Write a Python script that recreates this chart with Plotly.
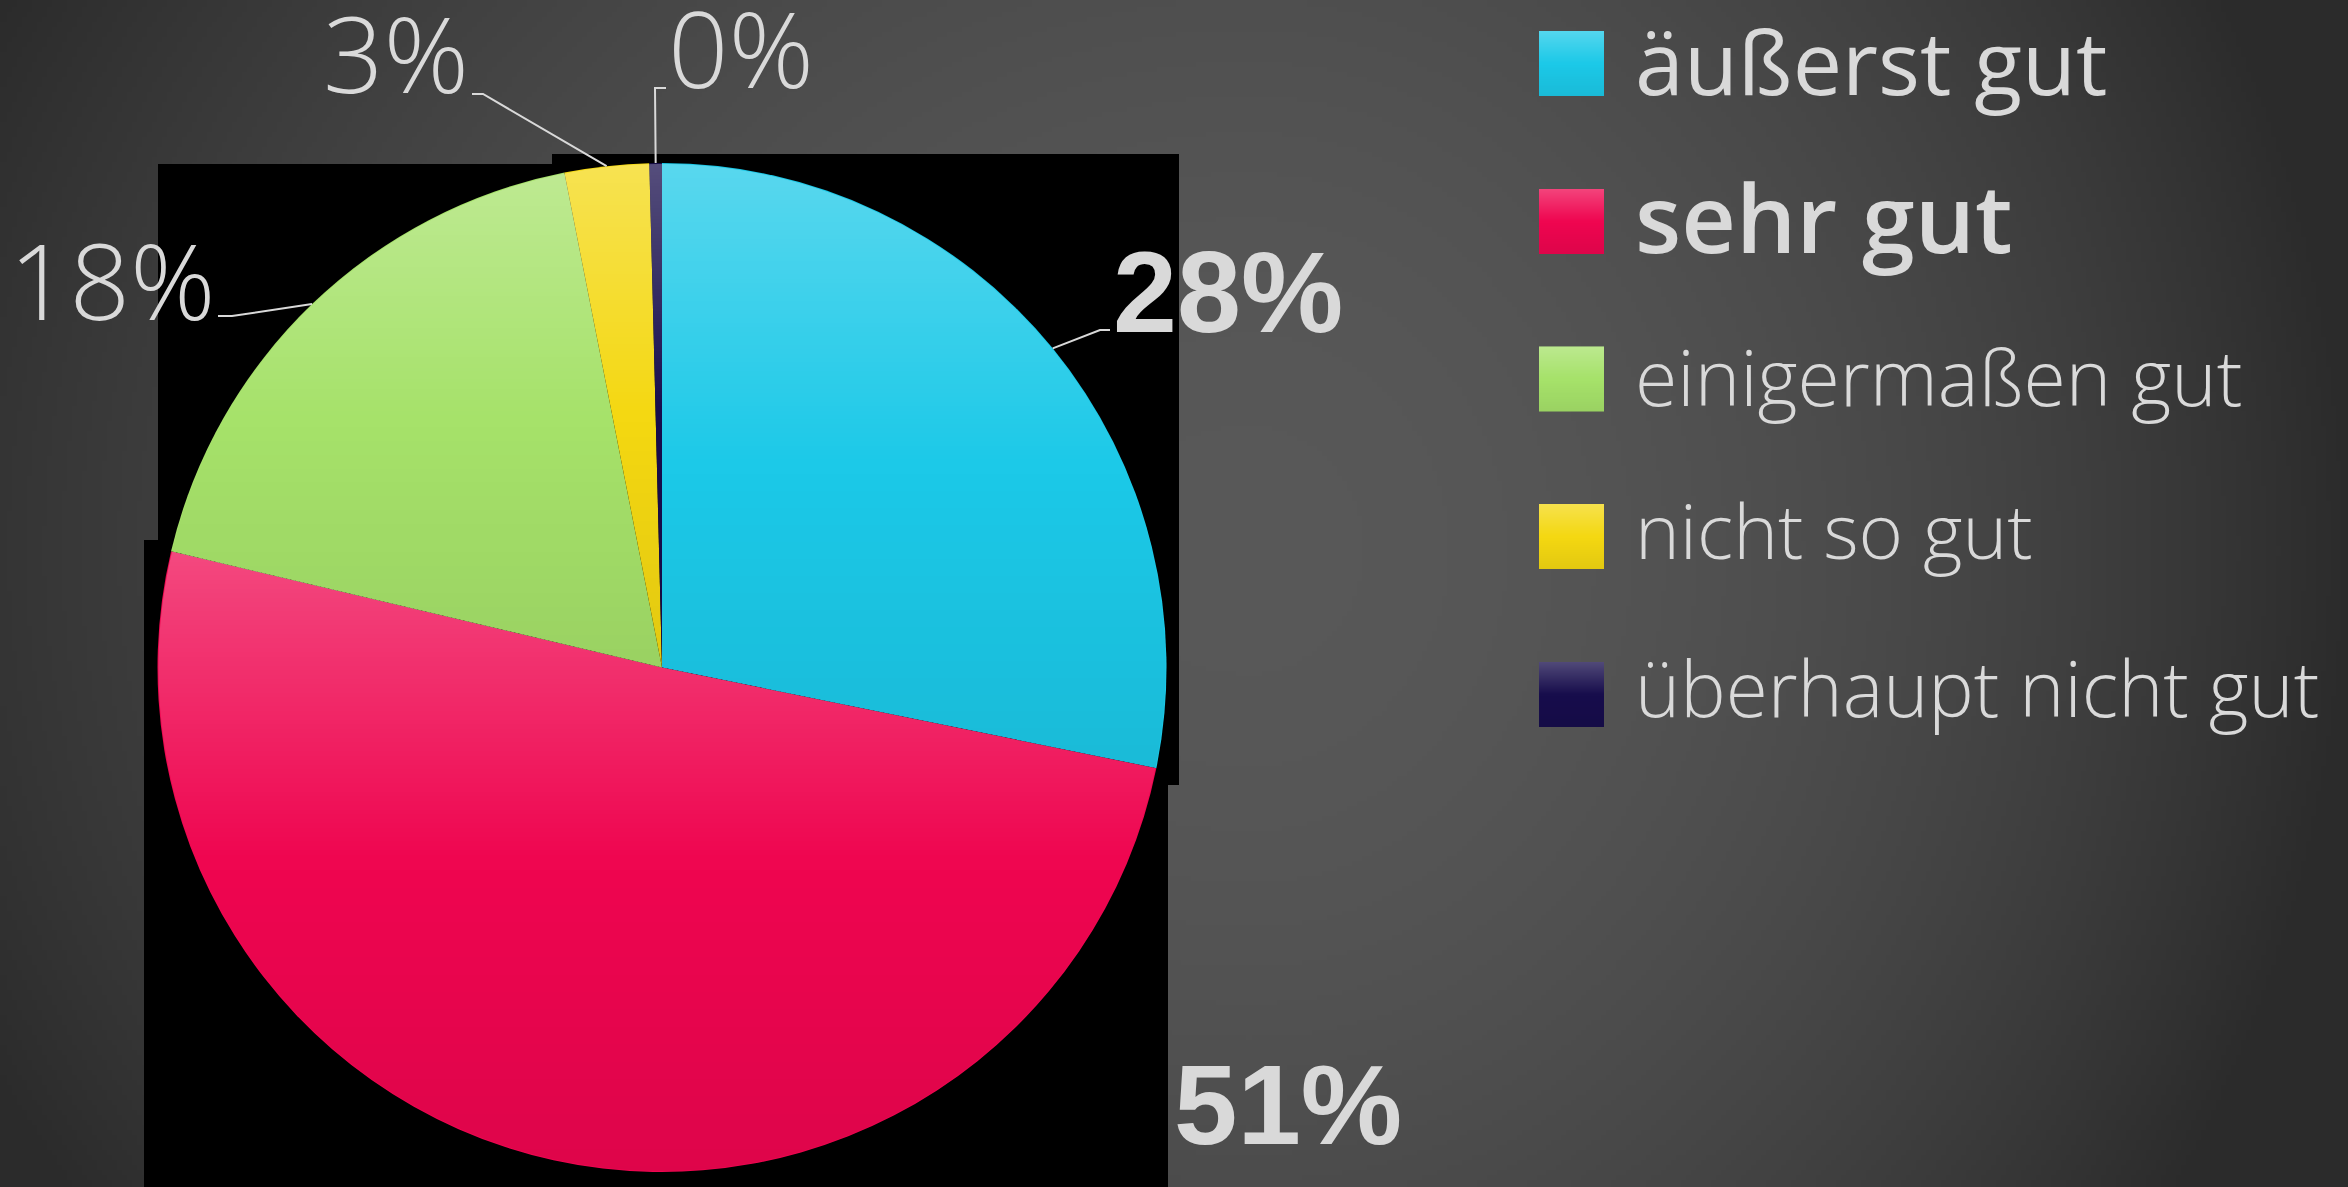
import base64
import struct
import zlib

import numpy as np
import plotly.graph_objects as go

# ---------------- data ----------------
categories = ["äußerst gut", "sehr gut", "einigermaßen gut", "nicht so gut", "überhaupt nicht gut"]
values = [28.2, 50.5, 18.2, 2.7, 0.4]
value_labels = ["28%", "51%", "18%", "3%", "0%"]
colors = ["#1cc9e8", "#ef0650", "#a6e26a", "#f4d812", "#170d4c"]

# ---------------- geometry / style ----------------
W, H = 2348, 1187
PIE_L, PIE_R, PIE_T, PIE_B = 157, 1167, 163, 1172
cx = (PIE_L + PIE_R) / 2
cy = (PIE_T + PIE_B) / 2
R = min(PIE_R - PIE_L, PIE_B - PIE_T) / 2
TXT = "#d9d9d9"


def px(x):
    return x / W


def py(y):
    return 1 - y / H


def png_uri(arr):
    h, w, c = arr.shape
    ctype = 2 if c == 3 else 6
    raw = b"".join(b"\x00" + arr[i].tobytes() for i in range(h))

    def chunk(t, d):
        return struct.pack(">I", len(d)) + t + d + struct.pack(">I", zlib.crc32(t + d) & 0xFFFFFFFF)

    data = (b"\x89PNG\r\n\x1a\n"
            + chunk(b"IHDR", struct.pack(">IIBBBBB", w, h, 8, ctype, 0, 0, 0))
            + chunk(b"IDAT", zlib.compress(raw, 9))
            + chunk(b"IEND", b""))
    return "data:image/png;base64," + base64.b64encode(data).decode()


# background radial gradient
bw, bh = 470, 238
Xb, Yb = np.meshgrid((np.arange(bw) + 0.5) * W / bw, (np.arange(bh) + 0.5) * H / bh)
gx, gy = 1250, 550
ddx = (Xb - gx) / np.where(Xb > gx, 1100, 1400)
ddy = (Yb - gy) / 1200
d2 = np.clip(ddx ** 2 + ddy ** 2, 0, 1)
lum = 88 - 45 * d2
bg = np.repeat(lum[..., None], 3, axis=2).round().astype(np.uint8)
bg_uri = png_uri(bg)

# per-slice vertical shading overlay (lighter at top of each slice)
total = sum(values)
bounds = np.cumsum(values) / total * 360.0
starts = np.concatenate([[0.0], bounds[:-1]])
tops, bots = [], []
for a0, a1 in zip(starts, bounds):
    angs = [a0, a1] + [k for k in (0, 90, 180, 270, 360) if a0 < k < a1]
    ys_pts = [cy] + [cy - R * np.cos(np.radians(a)) for a in angs]
    tops.append(min(ys_pts))
    bots.append(max(ys_pts))
tops = np.array(tops)
bots = np.array(bots)

ow, oh = PIE_R - PIE_L, PIE_B - PIE_T
Xo, Yo = np.meshgrid(PIE_L + np.arange(ow) + 0.5, PIE_T + np.arange(oh) + 0.5)
DX, DY = Xo - cx, Yo - cy
dist = np.hypot(DX, DY)
cover = np.clip(R - dist - 0.5, 0, 1)
ang = np.degrees(np.arctan2(DX, -DY)) % 360
idx = np.clip(np.searchsorted(bounds, ang, side="right"), 0, len(values) - 1)
T = np.clip((Yo - tops[idx]) / np.maximum(bots[idx] - tops[idx], 1), 0, 1)
wa = 0.27 * np.clip(1 - T / 0.5, 0, 1)
ba = 0.07 * np.clip((T - 0.5) / 0.5, 0, 1)
ov = np.zeros((oh, ow, 4), dtype=np.uint8)
ov[..., 0] = ov[..., 1] = ov[..., 2] = np.where(wa > 0, 255, 0)
ov[..., 3] = np.round((wa + ba) * cover * 255).astype(np.uint8)
ov_uri = png_uri(ov)

# small gradient for legend squares
sq = np.zeros((64, 1, 4), dtype=np.uint8)
tt = (np.arange(64) + 0.5) / 64
swa = 0.25 * np.clip(1 - tt / 0.5, 0, 1)
sba = 0.07 * np.clip((tt - 0.5) / 0.5, 0, 1)
sq[:, 0, 0] = sq[:, 0, 1] = sq[:, 0, 2] = np.where(swa > 0, 255, 0)
sq[:, 0, 3] = np.round((swa + sba) * 255).astype(np.uint8)
sq_uri = png_uri(sq)

# ---------------- figure ----------------
fig = go.Figure()
fig.add_trace(go.Pie(
    labels=categories,
    values=values,
    sort=False,
    direction="clockwise",
    rotation=0,
    marker=dict(colors=colors, line=dict(width=0)),
    textinfo="none",
    hoverinfo="label+percent",
    showlegend=False,
    domain=dict(x=[px(PIE_L), px(PIE_R)], y=[py(PIE_B), py(PIE_T)]),
))

shapes = []
# black artefact rectangles behind the pie
for (x0, y0, x1, y1) in [(552, 154, 1179, 785), (158, 164, 1179, 785), (144, 540, 1168, 1190)]:
    shapes.append(dict(type="rect", xref="paper", yref="paper", x0=px(x0), x1=px(x1), y0=py(y1), y1=py(y0),
                       fillcolor="black", line=dict(width=0), layer="below"))

images = [
    dict(source=bg_uri, xref="paper", yref="paper", x=0, y=1, sizex=1, sizey=1,
         sizing="stretch", xanchor="left", yanchor="top", layer="below"),
    dict(source=ov_uri, xref="paper", yref="paper", x=px(PIE_L), y=py(PIE_T),
         sizex=ow / W, sizey=oh / H, sizing="stretch", xanchor="left", yanchor="top", layer="above"),
]

# data labels with leader lines
label_pos = [(1228, 292), (1288, 1104), (112, 279), (396, 52), (741, 47)]
label_font = [
    dict(family="Liberation Sans, Arial", size=115, color=TXT, weight=700),
    dict(family="Liberation Sans, Arial", size=114, color=TXT, weight=700),
    dict(family="Open Sans", size=106, color=TXT, weight=300),
    dict(family="Open Sans", size=106, color=TXT, weight=300),
    dict(family="Open Sans", size=106, color=TXT, weight=300),
]
elbows = [((1100, 330), (1110, 330)), None, ((232, 316), (218, 316)),
          ((483, 94), (472, 94)), ((655, 88), (666, 88))]

annotations = []
for i, lab in enumerate(value_labels):
    lx, ly = label_pos[i]
    annotations.append(dict(text=lab, x=px(lx), y=py(ly), xref="paper", yref="paper",
                            xanchor="center", yanchor="middle", showarrow=False, font=label_font[i]))
    if elbows[i] is not None:
        mid = (starts[i] + bounds[i]) / 2
        sx = cx + R * np.sin(np.radians(mid))
        sy = cy - R * np.cos(np.radians(mid))
        (ex, ey), (tx, ty) = elbows[i]
        path = f"M{px(sx)},{py(sy)} L{px(ex)},{py(ey)} L{px(tx)},{py(ty)}"
        shapes.append(dict(type="path", xref="paper", yref="paper", path=path,
                           line=dict(color=TXT, width=2), layer="above"))

# legend
sq_x0, sq_size = 1539, 65
row_centers = [63.5, 221.5, 379, 536.5, 694.5]
text_y = [61, 216, 376, 529, 687]
leg_font_size = [88, 95, 77, 76, 76.5]
leg_font_weight = [400, 600, 300, 300, 300]
for i, cat in enumerate(categories):
    yc = row_centers[i]
    shapes.append(dict(type="rect", xref="paper", yref="paper",
                       x0=px(sq_x0), x1=px(sq_x0 + sq_size),
                       y0=py(yc + sq_size / 2), y1=py(yc - sq_size / 2),
                       fillcolor=colors[i], line=dict(width=0), layer="below"))
    images.append(dict(source=sq_uri, xref="paper", yref="paper", x=px(sq_x0), y=py(yc - sq_size / 2),
                       sizex=sq_size / W, sizey=sq_size / H, sizing="stretch",
                       xanchor="left", yanchor="top", layer="above"))
    annotations.append(dict(text=cat, x=px(1633), y=py(text_y[i]), xref="paper", yref="paper",
                            xanchor="left", yanchor="middle", showarrow=False,
                            font=dict(family="Open Sans", size=leg_font_size[i], color=TXT,
                                      weight=leg_font_weight[i])))

fig.update_layout(
    width=W, height=H,
    margin=dict(l=0, r=0, t=0, b=0),
    paper_bgcolor="#404040",
    plot_bgcolor="rgba(0,0,0,0)",
    shapes=shapes,
    images=images,
    annotations=annotations,
)

fig.write_html("out.html", config={"displayModeBar": False},
               post_script="document.body.style.margin='0';document.body.style.overflow='hidden';")
